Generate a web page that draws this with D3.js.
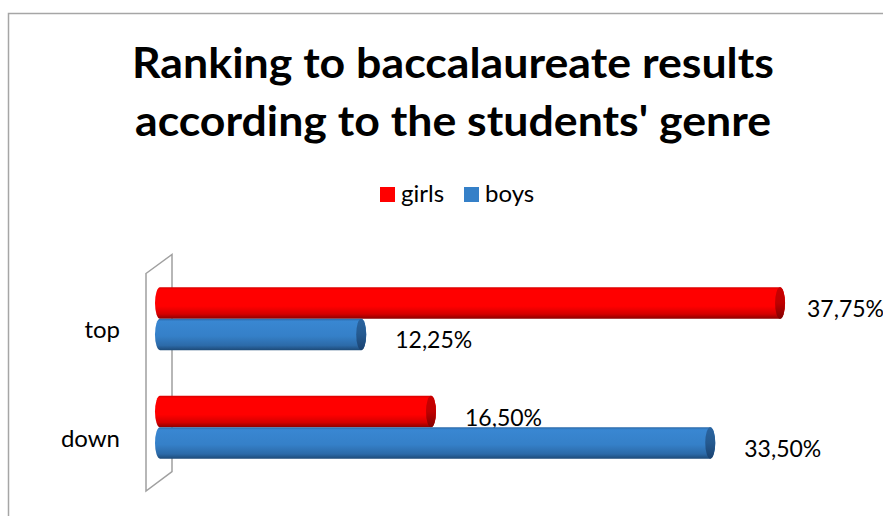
<!DOCTYPE html>
<html>
<head>
<meta charset="utf-8">
<script src="https://cdn.jsdelivr.net/npm/d3@7"></script>
<style>
  html, body { margin: 0; padding: 0; background: #fff; }
  svg { display: block; }
  text { font-family: Lato, "Open Sans", sans-serif; fill: #000; }
</style>
</head>
<body>
<svg id="chart" width="883" height="516"></svg>
<script>
// data
var titleLines = ["Ranking to baccalaureate results", "according to the students' genre"];
var categories = ["top", "down"];
var seriesNames = ["girls", "boys"];
var girls = [37.75, 16.50];
var boys = [12.25, 33.50];
var seriesColors = ["#ff0000", "#3580c8"];

var svg = d3.select("#chart");

// outer frame (cut off on right / bottom)
svg.append("rect")
    .attr("x", 8.5).attr("y", 13.5)
    .attr("width", 900).attr("height", 520)
    .attr("fill", "none")
    .attr("stroke", "#a6a6a6")
    .attr("stroke-width", 1.5);

// gradients for the cylinders
var defs = svg.append("defs");
function grad(id, stops) {
    var g = defs.append("linearGradient")
        .attr("id", id)
        .attr("x1", 0).attr("y1", 0).attr("x2", 0).attr("y2", 1);
    stops.forEach(function (s) {
        g.append("stop").attr("offset", s[0]).attr("stop-color", s[1]);
    });
}
grad("body-girls", [["0%", "#d80000"], ["8%", "#ff0000"], ["60%", "#ff0000"], ["85%", "#d40000"], ["100%", "#8c0000"]]);
grad("cap-girls", [["0%", "#c80000"], ["50%", "#c00000"], ["100%", "#800000"]]);
grad("body-boys", [["0%", "#2a68a8"], ["8%", "#3987d2"], ["55%", "#3580c8"], ["85%", "#2c6aa8"], ["100%", "#1d4a78"]]);
grad("cap-boys", [["0%", "#2a64a0"], ["50%", "#255a90"], ["100%", "#1a4270"]]);

// title (widths fitted to the reference)
var titleWidths = [642, 636];
svg.selectAll(".title")
    .data(titleLines)
  .enter().append("text")
    .attr("class", "title")
    .attr("x", 453)
    .attr("y", function (d, i) { return 78 + i * 58; })
    .attr("text-anchor", "middle")
    .attr("font-size", 42)
    .attr("font-weight", "bold")
    .attr("textLength", function (d, i) { return titleWidths[i]; })
    .attr("lengthAdjust", "spacingAndGlyphs")
    .text(function (d) { return d; });

// legend
var legendX = [380, 464];
var legend = svg.selectAll(".legend")
    .data(seriesNames)
  .enter().append("g")
    .attr("class", "legend")
    .attr("transform", function (d, i) { return "translate(" + legendX[i] + ",187)"; });
legend.append("rect")
    .attr("width", 15).attr("height", 15)
    .attr("fill", function (d, i) { return seriesColors[i]; });
legend.append("text")
    .attr("x", 21).attr("y", 15)
    .attr("font-size", 24)
    .text(function (d) { return d; });

// scales
var x = d3.scaleLinear().domain([0, 40]).range([160, 817]);
var y0 = d3.scaleBand().domain(categories).range([264.5, 481.5])
    .paddingInner(0.42).paddingOuter(0.21);
var y1 = d3.scaleBand().domain(seriesNames).range([0, y0.bandwidth()]);

// back wall (3d side panel)
var wTop = y0.range()[0], wBot = y0.range()[1];
var wall = [[x(0) - 14, wTop + 9], [x(0) + 12, wTop - 10],
            [x(0) + 12, wBot - 10], [x(0) - 14, wBot + 9.5]];
svg.append("polygon")
    .attr("points", wall.map(function (p) { return p.join(","); }).join(" "))
    .attr("fill", "#fff")
    .attr("stroke", "#a0a0a0")
    .attr("stroke-width", 1.5);

// category labels
svg.selectAll(".cat")
    .data(categories)
  .enter().append("text")
    .attr("class", "cat")
    .attr("x", 120)
    .attr("y", function (d) { return y0(d) + y0.bandwidth() / 2 + 19.5; })
    .attr("text-anchor", "end")
    .attr("font-size", 24)
    .text(function (d) { return d; });

// bars as cylinders
var rows = [];
categories.forEach(function (c, i) {
    rows.push({ cat: c, series: "girls", value: girls[i] });
    rows.push({ cat: c, series: "boys", value: boys[i] });
});

var rx = 5;
var bar = svg.selectAll(".bar")
    .data(rows)
  .enter().append("g")
    .attr("class", "bar")
    .attr("transform", function (d) { return "translate(0," + (y0(d.cat) + y1(d.series)) + ")"; });

bar.append("path")
    .attr("d", function (d) {
        var h = y1.bandwidth(), ry = h / 2;
        var a = x(0), b = x(d.value);
        return "M" + a + ",0L" + b + ",0" +
            "A" + rx + "," + ry + " 0 0 1 " + b + "," + h +
            "L" + a + "," + h +
            "A" + rx + "," + ry + " 0 0 1 " + a + ",0Z";
    })
    .attr("fill", function (d) { return "url(#body-" + d.series + ")"; });

bar.append("ellipse")
    .attr("cx", function (d) { return x(d.value); })
    .attr("cy", y1.bandwidth() / 2)
    .attr("rx", rx)
    .attr("ry", y1.bandwidth() / 2)
    .attr("fill", function (d) { return "url(#cap-" + d.series + ")"; });

// value labels, kept from running further past the plot's right side
var fmt = function (v) { return v.toFixed(2).replace(".", ",") + "%"; };
bar.append("text")
    .attr("x", function (d) { return Math.min(x(d.value) + 34, 807); })
    .attr("y", y1.bandwidth() / 2 + 14)
    .attr("font-size", 23)
    .text(function (d) { return fmt(d.value); });
</script>
</body>
</html>
